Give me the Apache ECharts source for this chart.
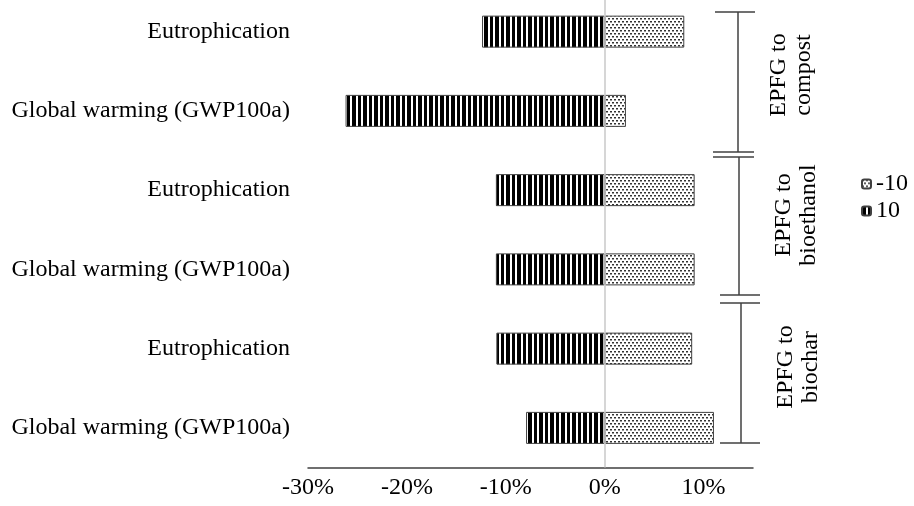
<!DOCTYPE html>
<html>
<head>
<meta charset="utf-8">
<script src="https://cdn.jsdelivr.net/npm/echarts@6/dist/echarts.min.js"></script>
<style>html,body{margin:0;padding:0;background:#fff;}#c{width:914px;height:506px;}</style>
</head>
<body>
<div id="c"></div>
<script>
// ---- data ----
const categories = ['Eutrophication','Global warming (GWP100a)','Eutrophication','Global warming (GWP100a)','Eutrophication','Global warming (GWP100a)'];
const seriesNames = ['-10','10'];
const valuesMinus10 = [8.05, 2.15, 9.1, 9.1, 8.85, 11.05];
const valuesPlus10 = [-12.4, -26.2, -11.0, -11.0, -10.95, -7.95];
const groupLabels = ['EPFG to\ncompost','EPFG to\nbioethanol','EPFG to\nbiochar'];
const xTicks = {min: -30, max: 15, interval: 10};

const FONT = '"Liberation Serif", "Times New Roman", serif';

function stripePattern(){
  const c = document.createElement('canvas'); c.width = 11; c.height = 4;
  const g = c.getContext('2d');
  g.fillStyle = '#fff'; g.fillRect(0,0,11,4);
  g.fillStyle = '#000'; g.fillRect(0,0,4,4); g.fillRect(6,0,3,4);
  return c;
}
function dotPattern(){
  const c = document.createElement('canvas'); c.width = 4; c.height = 6;
  const g = c.getContext('2d');
  g.fillStyle = '#fff'; g.fillRect(0,0,4,6);
  g.fillStyle = '#333';
  g.fillRect(0,0,2,1.5); g.fillRect(2,3,2,1.5);
  return c;
}
const stripes = {image: stripePattern(), repeat: 'repeat'};
const dots = {image: dotPattern(), repeat: 'repeat'};

const chart = echarts.init(document.getElementById('c'), null, {renderer: 'canvas'});
const lineColor = '#404040';
const bracket = [
  {shape:{x1:715,y1:12,x2:755,y2:12}},
  {shape:{x1:738,y1:12,x2:738,y2:152}},
  {shape:{x1:713,y1:152,x2:754,y2:152}},
  {shape:{x1:713,y1:157,x2:754,y2:157}},
  {shape:{x1:739,y1:157,x2:739,y2:295}},
  {shape:{x1:720,y1:295,x2:760,y2:295}},
  {shape:{x1:720,y1:303,x2:760,y2:303}},
  {shape:{x1:741,y1:303,x2:741,y2:443}},
  {shape:{x1:720,y1:443,x2:760,y2:443}}
].map(o => Object.assign({type:'line', silent:true, style:{stroke:lineColor, lineWidth:1.5}}, o));
const labelPos = [[791,75],[796,215],[798,367]];
const groupTexts = groupLabels.map((t,i) => ({
  type:'text', x: labelPos[i][0], y: labelPos[i][1], rotation: Math.PI/2, silent:true,
  style:{text:t, font:'24px ' + FONT, fill:'#000', align:'center', verticalAlign:'middle', lineHeight:25}
}));

chart.setOption({
  animation: false,
  backgroundColor: '#fff',
  grid: {left: 308, right: 161, top: -8, bottom: 38.5, containLabel: false, outerBoundsMode: 'none'},
  legend: {
    orient: 'vertical', left: 856, top: 167, itemWidth: 9, itemHeight: 9, itemGap: 3,
    data: seriesNames,
    textStyle: {fontFamily: FONT, fontSize: 24, color: '#000'}
  },
  xAxis: {
    type: 'value', min: xTicks.min, max: xTicks.max, interval: xTicks.interval,
    axisLine: {show: true, onZero: false, lineStyle: {color: lineColor, width: 1.5}},
    axisTick: {show: false}, splitLine: {show: false},
    axisLabel: {formatter: '{value}%', fontFamily: FONT, fontSize: 24, color: '#000', margin: 8,
      showMaxLabel: false}
  },
  yAxis: {
    type: 'category', inverse: true, data: categories,
    axisLine: {show: false}, axisTick: {show: false},
    axisLabel: {fontFamily: FONT, fontSize: 24, color: '#000', margin: 18}
  },
  series: [
    {name: seriesNames[0], type: 'bar', stack: 'a', barWidth: 32, data: valuesMinus10,
     itemStyle: {color: dots, borderColor: lineColor, borderWidth: 1},
     markLine: {silent: true, symbol: 'none', label: {show: false},
       lineStyle: {color: '#c8c8c8', width: 1.5, type: 'solid'}, data: [{xAxis: 0}]}},
    {name: seriesNames[1], type: 'bar', stack: 'a', barWidth: 32, data: valuesPlus10,
     itemStyle: {color: stripes, borderColor: lineColor, borderWidth: 1}}
  ],
  graphic: bracket.concat(groupTexts)
});
</script>
</body>
</html>
